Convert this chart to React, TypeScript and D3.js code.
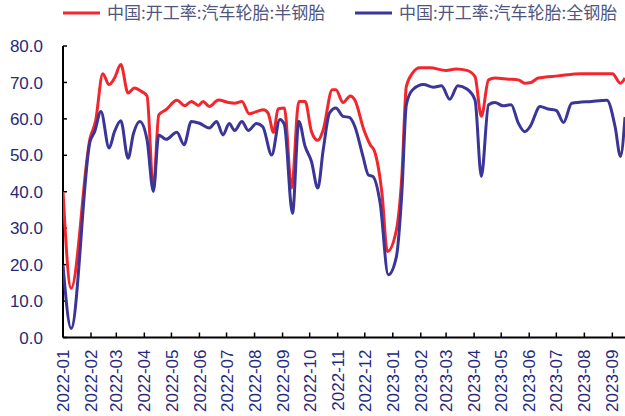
import React from "react";
import * as d3 from "d3";

const seriesNames = ["中国:开工率:汽车轮胎:半钢胎", "中国:开工率:汽车轮胎:全钢胎"];
const seriesColors = ["#f2262c", "#3a3597"];

const semiDates = [
  "2022-01-01","2022-01-10","2022-01-31","2022-02-06","2022-02-14","2022-02-21","2022-02-27","2022-03-06",
  "2022-03-14","2022-03-21","2022-03-29","2022-04-04","2022-04-11","2022-04-17","2022-04-25","2022-05-07",
  "2022-05-16","2022-05-23","2022-05-31","2022-06-05","2022-06-12","2022-06-22","2022-07-03","2022-07-10",
  "2022-07-18","2022-07-26","2022-08-03","2022-08-11","2022-08-16","2022-08-22","2022-08-27","2022-09-03",
  "2022-09-11","2022-09-19","2022-09-26","2022-10-03","2022-10-10","2022-10-16","2022-10-26","2022-10-30",
  "2022-11-07","2022-11-15","2022-11-20","2022-11-30","2022-12-07","2022-12-12","2022-12-20","2022-12-26",
  "2023-01-05","2023-01-11","2023-01-16","2023-01-23","2023-01-31","2023-02-11","2023-03-01","2023-03-12",
  "2023-03-24","2023-04-02","2023-04-09","2023-04-17","2023-04-24","2023-05-09","2023-05-20","2023-05-27",
  "2023-06-03","2023-06-11","2023-07-03","2023-07-29","2023-09-01","2023-09-10","2023-09-15"
];
const semiValues = [
  40.0, 13.5, 54.7, 59.3, 72.4, 69.4, 71.2, 74.9,
  67.1, 68.5, 67.5, 66.3, 40.5, 61.1, 62.5, 65.1,
  63.6, 64.8, 63.7, 64.8, 63.4, 65.2, 64.5, 64.3,
  64.8, 61.4, 62.0, 62.5, 61.6, 56.3, 62.7, 63.0,
  41.0, 64.8, 64.8, 56.5, 54.1, 57.0, 68.0, 68.0,
  64.5, 66.3, 65.2, 57.0, 52.9, 51.0, 39.6, 23.6,
  29.5, 44.2, 68.9, 72.6, 74.0, 74.0, 73.3, 73.7,
  73.3, 71.6, 60.7, 70.7, 71.2, 70.9, 70.7, 69.8,
  70.0, 71.2, 71.8, 72.4, 72.4, 69.8, 71.2
];

const allSteelDates = [
  "2022-01-01","2022-01-10","2022-01-31","2022-02-05","2022-02-12","2022-02-21","2022-02-27","2022-03-06",
  "2022-03-14","2022-03-20","2022-03-27","2022-04-04","2022-04-11","2022-04-17","2022-04-25","2022-05-07",
  "2022-05-15","2022-05-23","2022-06-01","2022-06-12","2022-06-20","2022-06-27","2022-07-04","2022-07-10",
  "2022-07-18","2022-07-25","2022-08-03","2022-08-10","2022-08-20","2022-08-29","2022-09-03","2022-09-12",
  "2022-09-19","2022-09-26","2022-10-03","2022-10-10","2022-10-16","2022-10-23","2022-10-30","2022-11-07",
  "2022-11-14","2022-11-20","2022-11-29","2022-12-05","2022-12-10","2022-12-18","2022-12-27","2023-01-05",
  "2023-01-11","2023-01-16","2023-01-23","2023-02-04","2023-02-15","2023-02-24","2023-03-05","2023-03-14",
  "2023-03-24","2023-04-02","2023-04-09","2023-04-17","2023-04-24","2023-05-03","2023-05-12","2023-05-20",
  "2023-05-27","2023-06-02","2023-06-13","2023-06-22","2023-07-01","2023-07-09","2023-07-18","2023-08-09",
  "2023-08-26","2023-09-04","2023-09-10","2023-09-15"
];
const allSteelValues = [
  19.9, 2.5, 53.8, 56.5, 62.0, 52.0, 56.5, 59.5,
  49.2, 56.0, 59.3, 54.3, 40.1, 55.6, 54.4, 56.3,
  52.9, 59.3, 58.8, 57.5, 59.3, 55.6, 58.7, 56.8,
  59.3, 56.8, 58.7, 57.9, 50.1, 59.8, 58.4, 34.1,
  59.3, 52.4, 48.3, 41.0, 51.5, 61.6, 63.0, 60.7,
  60.4, 57.9, 49.7, 44.6, 44.2, 36.9, 17.2, 22.2,
  39.6, 63.9, 68.0, 69.4, 68.7, 69.1, 65.4, 69.1,
  68.2, 65.2, 44.2, 63.9, 64.5, 63.6, 63.9, 58.8,
  56.5, 57.9, 63.4, 62.7, 62.3, 59.0, 64.3, 64.8,
  65.1, 57.9, 49.7, 60.5
];

const yTicks = [0, 10, 20, 30, 40, 50, 60, 70, 80];
const xStart = "2022-01-01";
const xEnd = "2023-09-15";

const W = 625;
const H = 416;
const left = 63;
const right = 625;
const top = 46;
const bottom = 337.5;

export default function App() {
  const parse = d3.timeParse("%Y-%m-%d");
  const x = d3.scaleTime().domain([parse(xStart)!, parse(xEnd)!]).range([left, right]);
  const y = d3.scaleLinear().domain([0, 80]).range([bottom, top]);
  const fmt = d3.timeFormat("%Y-%m");
  const monthTicks = d3.timeMonth.range(parse(xStart)!, parse(xEnd)!);

  const series = [
    { dates: semiDates, values: semiValues },
    { dates: allSteelDates, values: allSteelValues },
  ];
  const line = d3
    .line<[Date, number]>()
    .x((d) => x(d[0]))
    .y((d) => y(d[1]))
    .curve(d3.curveMonotoneX);

  const axisFont = "'Liberation Sans', Arial, sans-serif";
  const labelColor = "#252a7c";
  const legendColor = "#50557e";

  return (
    <svg width={W} height={H} style={{ position: "absolute", left: 0, top: 0, background: "#fff" }}>
      <defs>
        <clipPath id="plot">
          <rect x={left} y={0} width={right - left} height={H} />
        </clipPath>
      </defs>
      {/* legend */}
      {[0, 1].map((i) => {
        const lx = i === 0 ? 63 : 355;
        return (
          <g key={i}>
            <line x1={lx} x2={lx + 37} y1={13} y2={13} stroke={seriesColors[i]} strokeWidth={3} />
            <text
              x={lx + 44}
              y={19}
              fontSize={17}
              fill={legendColor}
              fontFamily="'Noto Sans CJK SC', sans-serif"
            >
              {seriesNames[i]}
            </text>
          </g>
        );
      })}
      {/* y axis */}
      <line x1={left} x2={left} y1={top} y2={bottom} stroke="#000" strokeWidth={2} />
      {yTicks.map((t) => (
        <g key={t}>
          <line x1={left} x2={left + 4} y1={y(t)} y2={y(t)} stroke="#000" strokeWidth={1.5} />
          <text
            x={43}
            y={y(t)}
            dy="0.36em"
            textAnchor="end"
            fontSize={17}
            fill={labelColor}
            fontFamily={axisFont}
          >
            {t.toFixed(1)}
          </text>
        </g>
      ))}
      {/* x axis */}
      <line x1={left} x2={right} y1={bottom} y2={bottom} stroke="#000" strokeWidth={2} />
      {monthTicks.map((m) => (
        <g key={m.toISOString()}>
          <line x1={x(m)} x2={x(m)} y1={bottom} y2={bottom - 5} stroke="#000" strokeWidth={1.5} />
          <text
            transform={`translate(${x(m)},${bottom + 12}) rotate(-90)`}
            dy="0.36em"
            textAnchor="end"
            fontSize={17}
            fill={labelColor}
            fontFamily={axisFont}
          >
            {fmt(m)}
          </text>
        </g>
      ))}
      {/* lines */}
      <g clipPath="url(#plot)">
        {series.map((s, i) => (
          <path
            key={i}
            d={line(s.dates.map((d, j) => [parse(d)!, s.values[j]]))!}
            fill="none"
            stroke={seriesColors[i]}
            strokeWidth={3}
            strokeLinejoin="round"
          />
        ))}
      </g>
    </svg>
  );
}
